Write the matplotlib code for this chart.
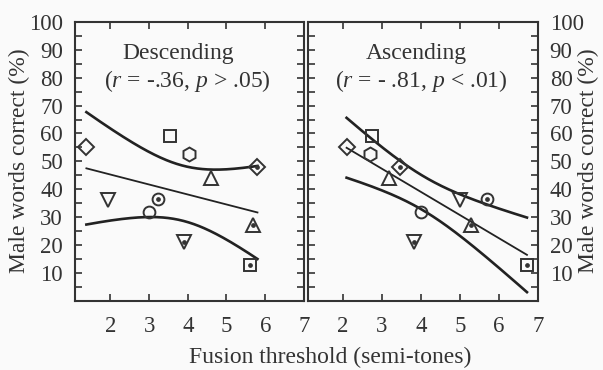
import numpy as np
import matplotlib
matplotlib.use("Agg")
import matplotlib.pyplot as plt
from matplotlib.ticker import MultipleLocator

plt.rcParams['font.family'] = ['Liberation Serif', 'DejaVu Serif']
plt.rcParams['mathtext.fontset'] = 'custom'
plt.rcParams['mathtext.rm'] = 'Liberation Serif'
plt.rcParams['mathtext.it'] = 'Liberation Serif:italic'

# Subject data (same word scores in both panels)
words_correct = [55.2, 59.1, 52.6, 43.9, 47.8, 36.1, 36.4, 31.9, 27.1, 20.9, 12.8]
desc_threshold = [1.38, 3.55, 4.04, 4.60, 5.80, 1.94, 3.22, 2.99, 5.68, 3.91, 5.61]
asc_threshold = [2.09, 2.74, 2.68, 3.18, 3.45, 4.99, 5.70, 4.01, 5.29, 3.81, 6.72]
markers = ['D', 's', 'h', '^', 'D', 'v', 'o', 'o', '^', 'v', 's']
has_dot = [False, False, False, False, True, False, True, False, True, True, True]

panel_titles = ["Descending", "Ascending"]
panel_stats = ["($r$ = -.36, $p$ > .05)", "($r$ = - .81, $p$ < .01)"]
x_ticks = [2, 3, 4, 5, 6, 7]
y_ticks = [10, 20, 30, 40, 50, 60, 70, 80, 90, 100]
T_CRIT = 2.262  # t(0.975, df=9)

INK = '#333333'
FS = 17
fig = plt.figure(figsize=(6.03, 3.70), dpi=100)
fig.patch.set_facecolor('#fafafa')
ax1 = fig.add_axes([0.124, 0.1873, 0.380, 0.7532])
ax2 = fig.add_axes([0.5108, 0.1873, 0.3812, 0.7532])

def regress(ax, xs, ys):
    x = np.asarray(xs); y = np.asarray(ys)
    n = len(x)
    b, a = np.polyfit(x, y, 1)
    resid = y - (a + b * x)
    s = np.sqrt(np.sum(resid ** 2) / (n - 2))
    sxx = np.sum((x - x.mean()) ** 2)
    xx = np.linspace(x.min(), x.max(), 200)
    yy = a + b * xx
    half = T_CRIT * s * np.sqrt(1.0 / n + (xx - x.mean()) ** 2 / sxx)
    ax.plot(xx, yy, color='#222222', lw=1.3, zorder=2)
    ax.plot(xx, yy + half, color='#222222', lw=1.9, zorder=2)
    ax.plot(xx, yy - half, color='#222222', lw=1.9, zorder=2)

title_pos = [(0.45, 0.49), (0.473, 0.491)]

for i, (ax, xs) in enumerate([(ax1, desc_threshold), (ax2, asc_threshold)]):
    ax.set_facecolor('#fafafa')
    regress(ax, xs, words_correct)
    for x, y, m, d in zip(xs, words_correct, markers, has_dot):
        ms = {'D': 8.0, 's': 8.0, 'h': 10.0, 'o': 8.5, '^': 9.5, 'v': 9.5}[m]
        ax.plot([x], [y], marker=m, ms=ms, mfc='none', mec=INK, mew=1.4, ls='none', zorder=3)
        if d:
            ax.plot([x], [y], marker='o', ms=2.4, mfc=INK, mec=INK, ls='none', zorder=4)
    ax.set_xlim(1.08, 7.0)
    ax.set_ylim(0, 100)
    ax.set_xticks(x_ticks)
    ax.set_xticklabels([str(t) for t in x_ticks])
    ax.yaxis.set_major_locator(MultipleLocator(10))
    ax.yaxis.set_minor_locator(MultipleLocator(5))
    ax.tick_params(axis='both', which='both', direction='in', top=True, right=True,
                   color=INK, width=1.2, labelsize=16.5, labelcolor=INK)
    ax.tick_params(axis='both', which='major', length=5)
    ax.tick_params(axis='both', which='minor', length=5)
    ax.tick_params(axis='x', pad=11)
    ax.tick_params(axis='y', pad=8.5)
    for sp in ax.spines.values():
        sp.set_color(INK)
        sp.set_linewidth(1.5)
    tx, sx = title_pos[i]
    ax.text(tx, 0.888, panel_titles[i], transform=ax.transAxes, ha='center', va='center',
            fontsize=FS, color=INK)
    ax.text(sx, 0.788, panel_stats[i], transform=ax.transAxes,
            ha='center', va='center', fontsize=FS, color=INK)

ax1.set_yticks(y_ticks)
ax1.set_yticklabels([str(t) for t in y_ticks])
ax1.tick_params(axis='y', labelleft=True, labelright=False)
ax2.set_yticks(y_ticks)
ax2.set_yticklabels([str(t) for t in y_ticks])
ax2.tick_params(axis='y', labelleft=False, labelright=True)
ax2.set_xlim(1.1, 7.0)

fig.text(0.033, 0.565, "Male words correct (%)", rotation=90, ha='center', va='center',
         fontsize=FS, color=INK)
fig.text(0.976, 0.565, "Male words correct (%)", rotation=90, ha='center', va='center',
         fontsize=FS, color=INK)
fig.text(0.547, 0.035, "Fusion threshold (semi-tones)", ha='center', va='center',
         fontsize=FS, color=INK)

fig.savefig("out.png", dpi=100, facecolor=fig.get_facecolor())
